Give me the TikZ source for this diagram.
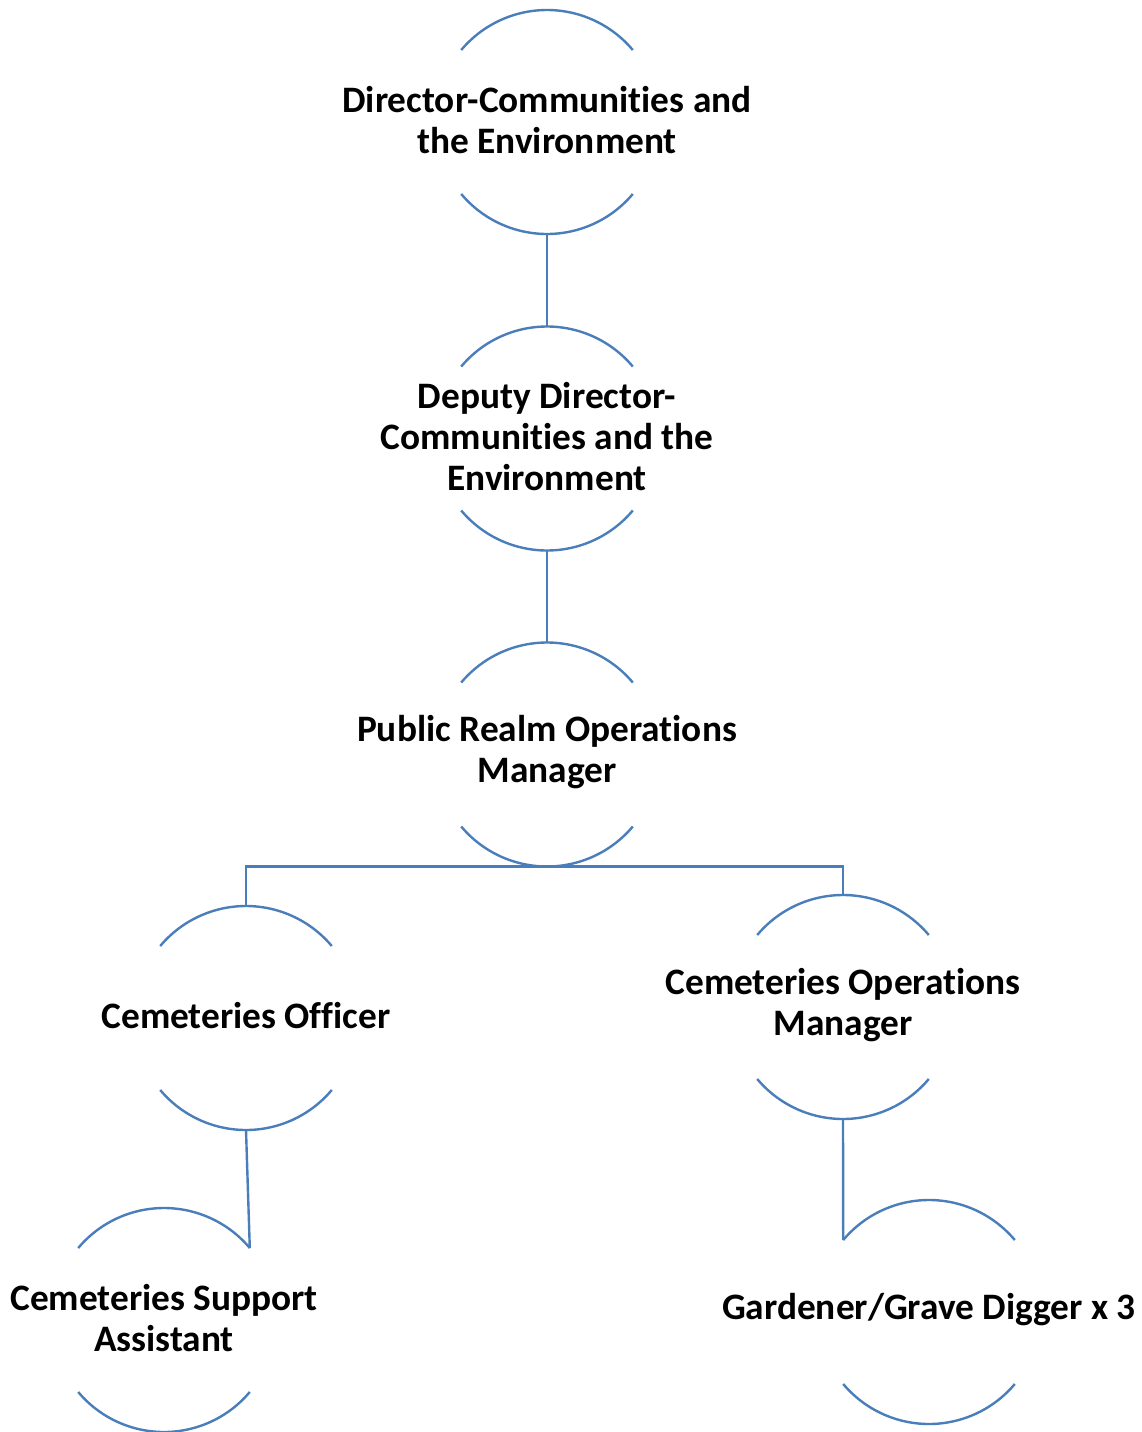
\documentclass[tikz,border=0pt]{standalone}
\usepackage{fontspec}
\setmainfont{Carlito}[RawFeature=-liga]
\definecolor{r74g126b187}{RGB}{74,126,187}
\tikzset{
  role/.style={circle, minimum size=168pt, inner sep=0pt, outer sep=0pt},
  roletext/.style={align=center, inner sep=0pt, yshift=1.5pt,
    font=\fontsize{28}{30.75}\selectfont\bfseries},
  rolearc/.style={draw=r74g126b187, line width=1.8pt},
  link/.style={draw=r74g126b187, line width=1.8pt}
}
\begin{document}
\begin{tikzpicture}[x=0.75pt, y=-0.75pt]
  \useasboundingbox (0,0) rectangle (1142,1432);

  % Top of the tree
  \node [role, label={[roletext]center:Director-Communities and\\the Environment}] (dir) at (547,122) {};
  \node [role, label={[roletext]center:Deputy Director-\\Communities and the\\Environment}] (dep) at (547,438.5) {};
  \node [role, label={[roletext]center:Public Realm Operations\\Manager}] (prm) at (547,754.5) {};

  % Second level
  \node [role, label={[roletext]center:Cemeteries Officer}] (coff) at (246,1018) {};
  \node [role, label={[roletext]center:Cemeteries Operations\\Manager}] (com) at (843,1007) {};

  % Third level
  \node [role, label={[roletext]center:Cemeteries Support\\Assistant}] (csa) at (164,1320) {};
  \node [role, label={[roletext]center:Gardener/Grave Digger x 3}] (gard) at (929,1312) {};

  % Arcs above and below each role
  \foreach \n in {dir,dep,prm,coff,com,csa,gard}
    \draw [rolearc] (\n.40) arc[start angle=40, end angle=140, radius=84pt]
                    (\n.220) arc[start angle=220, end angle=320, radius=84pt];

  % Connectors
  \draw [link] (dir.south) -- (dep.north);
  \draw [link] (dep.south) -- (prm.north);
  \draw [link] (coff.north) |- (prm.south) -| (com.north);
  \draw [link] (coff.south) -- (csa.40);
  \draw [link] (com.south) -- (gard.140);
\end{tikzpicture}
\end{document}
